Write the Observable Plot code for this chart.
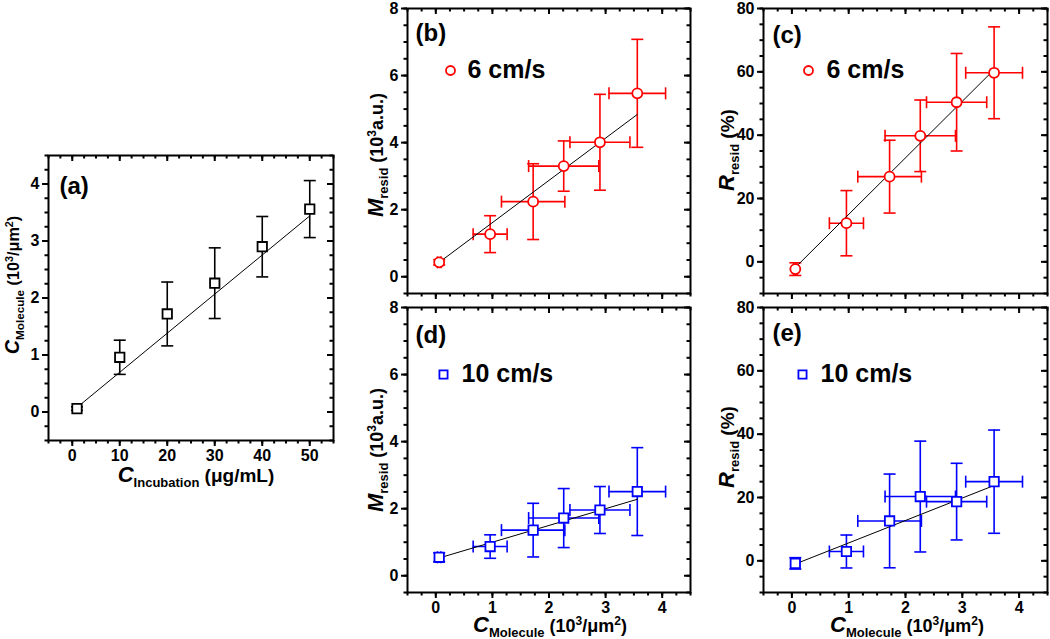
<!DOCTYPE html>
<html><head><meta charset="utf-8">
<script src="https://cdn.jsdelivr.net/npm/d3@7"></script>
<script src="https://cdn.jsdelivr.net/npm/@observablehq/plot@0.6"></script>
<style>
body{margin:0;background:#fff;}
#fig{position:relative;width:1050px;height:639px;overflow:hidden;background:#fff;font-family:"Liberation Sans",Arial,sans-serif;}
#fig svg{position:absolute;overflow:visible;background:transparent;}
</style></head><body><div id="fig"></div>
<script>
// ---------- data ----------
const cIncubation = [1, 10, 20, 30, 40, 50];
const cMolecule = [0.06, 0.96, 1.72, 2.26, 2.90, 3.56];
const cMoleculeErr = [0.03, 0.30, 0.56, 0.62, 0.53, 0.50];

const mResid6 = [0.43, 1.27, 2.24, 3.30, 4.01, 5.47];
const mResid6Err = [0.08, 0.55, 1.13, 0.75, 1.43, 1.61];
const rResid6 = [-2.3, 12.2, 26.9, 39.8, 50.4, 59.7];
const rResid6Err = [2.0, 10.3, 11.5, 11.3, 15.4, 14.5];

const mResid10 = [0.55, 0.87, 1.36, 1.72, 1.96, 2.51];
const mResid10Err = [0.13, 0.35, 0.80, 0.88, 0.70, 1.31];
const rResid10 = [-0.8, 2.95, 12.6, 20.3, 18.7, 25.0];
const rResid10Err = [1.8, 5.2, 14.8, 17.5, 12.1, 16.3];

// linear fits (end points)
const fitXA = [1, 50];
const fitYA = [0.08, 3.44];
const fitXMol = [0.06, 3.56];
const fitYB = [0.43, 4.84];
const fitYC = [-1.8, 60.7];
const fitYD = [0.53, 2.28];
const fitYE = [-1.0, 23.8];

// tick values
const ticksIncubation = [0, 10, 20, 30, 40, 50];
const ticksMolecule = [0, 1, 2, 3, 4];
const ticksA_Y = [0, 1, 2, 3, 4];
const ticksM = [0, 2, 4, 6, 8];
const ticksR = [0, 20, 40, 60, 80];

const panelLabels = ["(a)", "(b)", "(c)", "(d)", "(e)"];
const legend6 = "6 cm/s";
const legend10 = "10 cm/s";

const RED = "#ff0000", BLUE = "#0000ff";

// ---------- helpers ----------
const range = (a, b, s) => d3.range(Math.round((b - a) / s) + 1).map(i => +(a + i * s).toFixed(6));
function capSym(horizontal) {
  return {draw(ctx, size) {
    const r = Math.sqrt(size / Math.PI);
    if (horizontal) { ctx.moveTo(-r, 0); ctx.lineTo(r, 0); }
    else { ctx.moveTo(0, -r); ctx.lineTo(0, r); }
  }};
}
const capH = capSym(true), capV = capSym(false);

function rows(xs, ys, eys, exs) {
  return xs.map((x, i) => ({x, y: ys[i], ey: eys[i], ex: exs ? exs[i] : 0}));
}

const fig = document.getElementById("fig");

function panel(cfg) {
  const mL = 48, mR = 3, mT = 5, mB = 32;
  const fw = cfg.right - cfg.left, fh = cfg.bottom - cfg.top;
  const data = rows(cfg.xs, cfg.ys, cfg.eys, cfg.exs);
  const fit = cfg.fitX.map((x, i) => ({x, y: cfg.fitY[i]}));
  const col = cfg.color;
  const sw = 1.6;
  const [x0, x1] = cfg.xDomain, [y0, y1] = cfg.yDomain;
  // data units per pixel, used to give tick marks a fixed pixel length
  const kx = (x1 - x0) / fw, ky = (y1 - y0) / fh;
  const MAJ = 6, MIN = 3.5;
  const tk = {stroke: "black", strokeWidth: 2};
  const fmt = d => String(d);
  const tickX = (vals, len) => [
    Plot.ruleX(vals, {x: d => d, y1: () => y0, y2: () => y0 - len * ky, ...tk}),     // bottom, outward
    Plot.ruleX(vals, {x: d => d, y1: () => y1, y2: () => y1 - len * ky, ...tk})      // top, inward
  ];
  const tickY = (vals, len) => [
    Plot.ruleY(vals, {y: d => d, x1: () => x0, x2: () => x0 - len * kx, ...tk}),     // left, outward
    Plot.ruleY(vals, {y: d => d, x1: () => x1, x2: () => x1 - len * kx, ...tk})      // right, inward
  ];
  const marks = [
    ...tickX(cfg.xMinor, MIN), ...tickX(cfg.xMajor, MAJ),
    ...tickY(cfg.yMinor, MIN), ...tickY(cfg.yMajor, MAJ),
    Plot.axisY(cfg.yMajor, {anchor: "left", tickSize: 0, tickPadding: 9, tickFormat: fmt, label: null, fontSize: 16, fill: "black"})
  ];
  if (cfg.xLabels) {
    marks.push(Plot.axisX(cfg.xMajor, {anchor: "bottom", tickSize: 0, tickPadding: 9, tickFormat: fmt, label: null, fontSize: 16, fill: "black"}));
  }
  marks.push(
    // vertical error bars
    Plot.ruleX(data, {x: "x", y1: d => d.y - d.ey, y2: d => d.y + d.ey, stroke: col, strokeWidth: sw}),
    Plot.dot(data, {x: "x", y: d => d.y - d.ey, symbol: capH, r: 6, stroke: col, fill: "none", strokeWidth: sw}),
    Plot.dot(data, {x: "x", y: d => d.y + d.ey, symbol: capH, r: 6, stroke: col, fill: "none", strokeWidth: sw})
  );
  if (cfg.exs) {
    marks.push(
      Plot.ruleY(data, {y: "y", x1: d => d.x - d.ex, x2: d => d.x + d.ex, stroke: col, strokeWidth: sw}),
      Plot.dot(data, {x: d => d.x - d.ex, y: "y", symbol: capV, r: 6, stroke: col, fill: "none", strokeWidth: sw}),
      Plot.dot(data, {x: d => d.x + d.ex, y: "y", symbol: capV, r: 6, stroke: col, fill: "none", strokeWidth: sw})
    );
  }
  marks.push(
    Plot.line(fit, {x: "x", y: "y", stroke: "black", strokeWidth: 1}),
    Plot.dot(data, {x: "x", y: "y", symbol: cfg.symbol, r: cfg.symbol === "square" ? 5.3 : 5, stroke: col, fill: "white", strokeWidth: 1.8}),
    Plot.text([cfg.label], {frameAnchor: "top-left", dx: cfg.labelDx, dy: cfg.labelDy, lineAnchor: "top", textAnchor: "start", fontSize: 24, fontWeight: "bold", fill: "black"}),
    Plot.frame({stroke: "black", strokeWidth: 2})
  );
  if (cfg.legend) {
    const L = cfg.legend;
    marks.push(
      Plot.dot([0], {frameAnchor: "top-left", dx: L.dx, dy: L.dy, symbol: cfg.symbol, r: cfg.symbol === "square" ? 4.6 : 4.5, stroke: col, fill: "white", strokeWidth: 1.8}),
      Plot.text([L.text], {frameAnchor: "top-left", dx: L.tdx, dy: L.dy - 1, lineAnchor: "middle", textAnchor: "start", fontSize: 25, fontWeight: "bold", fill: "black"})
    );
  }
  const svg = Plot.plot({
    width: fw + mL + mR, height: fh + mT + mB,
    marginLeft: mL, marginRight: mR, marginTop: mT, marginBottom: mB,
    x: {domain: cfg.xDomain, axis: cfg.xLabels ? undefined : null},
    y: {domain: cfg.yDomain},
    style: {fontFamily: '"Liberation Sans", Arial, sans-serif', fontWeight: "bold", fontSize: "16px", color: "black", background: "transparent", overflow: "visible"},
    marks
  });
  svg.style.left = (cfg.left - mL) + "px";
  svg.style.top = (cfg.top - mT) + "px";
  fig.appendChild(svg);
}

const minorInc = range(-5, 55, 2.5);
const minorMol = range(-0.5, 4.5, 0.25);

panel({left: 48, right: 333, top: 155, bottom: 440, xDomain: [-5, 55], yDomain: [-0.5, 4.5],
  xMajor: ticksIncubation, xMinor: minorInc, yMajor: ticksA_Y, yMinor: range(-0.5, 4.5, 0.25), xLabels: true,
  xs: cIncubation, ys: cMolecule, eys: cMoleculeErr, color: "black", symbol: "square",
  fitX: fitXA, fitY: fitYA, label: panelLabels[0], labelDx: 11, labelDy: 21});

panel({left: 407, right: 690, top: 8, bottom: 293, xDomain: [-0.5, 4.5], yDomain: [-0.5, 8],
  xMajor: ticksMolecule, xMinor: minorMol, yMajor: ticksM, yMinor: range(-0.5, 8, 0.5), xLabels: false,
  xs: cMolecule, exs: cMoleculeErr, ys: mResid6, eys: mResid6Err, color: RED, symbol: "circle",
  fitX: fitXMol, fitY: fitYB, label: panelLabels[1], labelDx: 8, labelDy: 15,
  legend: {dx: 43, dy: 62, tdx: 60, text: legend6}});

panel({left: 763, right: 1047, top: 8, bottom: 293, xDomain: [-0.5, 4.5], yDomain: [-10, 80],
  xMajor: ticksMolecule, xMinor: minorMol, yMajor: ticksR, yMinor: range(-10, 80, 5), xLabels: false,
  xs: cMolecule, exs: cMoleculeErr, ys: rResid6, eys: rResid6Err, color: RED, symbol: "circle",
  fitX: fitXMol, fitY: fitYC, label: panelLabels[2], labelDx: 9, labelDy: 17,
  legend: {dx: 45, dy: 62, tdx: 63, text: legend6}});

panel({left: 407, right: 690, top: 307, bottom: 592, xDomain: [-0.5, 4.5], yDomain: [-0.5, 8],
  xMajor: ticksMolecule, xMinor: minorMol, yMajor: ticksM, yMinor: range(-0.5, 8, 0.5), xLabels: true,
  xs: cMolecule, exs: cMoleculeErr, ys: mResid10, eys: mResid10Err, color: BLUE, symbol: "square",
  fitX: fitXMol, fitY: fitYD, label: panelLabels[3], labelDx: 8, labelDy: 18,
  legend: {dx: 36, dy: 67, tdx: 54, text: legend10}});

panel({left: 763, right: 1047, top: 307, bottom: 592, xDomain: [-0.5, 4.5], yDomain: [-10, 80],
  xMajor: ticksMolecule, xMinor: minorMol, yMajor: ticksR, yMinor: range(-10, 80, 5), xLabels: true,
  xs: cMolecule, exs: cMoleculeErr, ys: rResid10, eys: rResid10Err, color: BLUE, symbol: "square",
  fitX: fitXMol, fitY: fitYE, label: panelLabels[4], labelDx: 9, labelDy: 16,
  legend: {dx: 39, dy: 67, tdx: 57, text: legend10}});

// ---------- axis titles (with sub/superscripts) ----------
const overlay = d3.create("svg").attr("width", 1050).attr("height", 639)
  .style("left", "0px").style("top", "0px").style("pointer-events", "none")
  .attr("font-family", '"Liberation Sans", Arial, sans-serif').attr("font-weight", "bold");
function title(parts, x, y, rot, k = 1) {
  const t = overlay.append("text").attr("transform", `translate(${x},${y}) rotate(${rot})`)
    .attr("text-anchor", "middle").attr("fill", "black");
  parts.forEach(p => {
    const s = t.append("tspan").text(p[0]).attr("font-size", p[1] * k);
    if (p[2]) s.attr("dy", p[2] * k);
    if (p[3]) s.attr("font-style", "italic");
  });
}
const tMolecule = [["C", 22, 0, 1], ["Molecule", 13, 5], [" (10", 18, -5], ["3", 12, -7], ["/\u03bcm", 18, 7], ["2", 12, -7], [")", 18, 7]];
const tIncubation = [["C", 22, 0, 1], ["Incubation", 13, 5], [" (\u03bcg/mL)", 19, -5]];
const tM = [["M", 22, 0, 1], ["resid", 13, 5], [" (10", 18, -5], ["3", 12, -7], ["a.u.)", 18, 7]];
const tR = [["R", 22, 0, 1], ["resid", 13, 5], [" (%)", 19, -5]];

title(tIncubation, 196, 482, 0);
title(tMolecule, 19, 285, -90, 0.9);
title(tM, 383, 155, -90);
title(tR, 734, 150, -90);
title(tM, 383, 450, -90);
title(tR, 734, 447, -90);
title(tMolecule, 550, 632, 0);
title(tMolecule, 907, 632, 0);
fig.appendChild(overlay.node());
</script></body></html>
